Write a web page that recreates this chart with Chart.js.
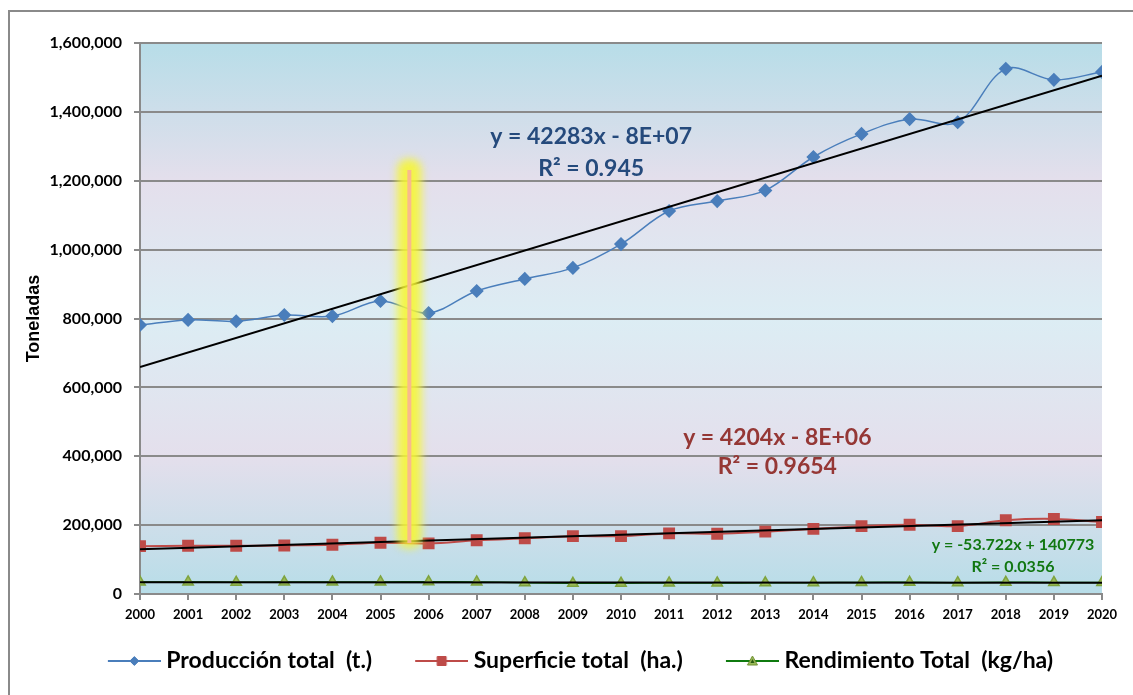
<!DOCTYPE html>
<html>
<head>
<meta charset="utf-8">
<script src="https://cdn.jsdelivr.net/npm/chart.js@4.4.0/dist/chart.umd.min.js"></script>
<style>
  html, body { margin: 0; padding: 0; background: #fff; }
  #wrap { position: relative; width: 1133px; height: 695px; overflow: hidden; }
  #frame { position: absolute; left: 8px; top: 10px; width: 1140px; height: 700px; border: 2px solid #8a8a8a; box-sizing: border-box; }
  #c { position: absolute; left: 0; top: 0; }
</style>
</head>
<body>
<div id="wrap">
  <div id="frame"></div>
  <canvas id="c" width="1133" height="695"></canvas>
</div>
<script>
const years = [2000, 2001, 2002, 2003, 2004, 2005, 2006, 2007, 2008, 2009, 2010,
               2011, 2012, 2013, 2014, 2015, 2016, 2017, 2018, 2019, 2020];
const produccion = [781000, 796000, 792000, 810000, 807000, 851000, 816000, 880000, 915000, 947000, 1016000,
                    1112000, 1141000, 1172000, 1269000, 1336000, 1379000, 1370000, 1525000, 1493000, 1516000];
const superficie = [139000, 140000, 140000, 141000, 143000, 149000, 147000, 156000, 162000, 168000, 168000,
                    176000, 175000, 181000, 189000, 197000, 201000, 197000, 214000, 218000, 209000];
const rendimiento = [34500, 35000, 34000, 34500, 35000, 35000, 35500, 35000, 33000, 31000, 31500,
                     32000, 32000, 32500, 33000, 33500, 34000, 33000, 34000, 33500, 33500];
const yTicks = [0, 200000, 400000, 600000, 800000, 1000000, 1200000, 1400000, 1600000];
const seriesNames = ["Producción total  (t.)", "Superficie total  (ha.)", "Rendimiento Total  (kg/ha)"];

// trend equations printed on the chart (position in data units)
const eqLabels = [
  { lines: ["y = 42283x - 8E+07", "R² = 0.945"], x: 2009.38, y: [1327000, 1234000], color: "#254a7c", size: 23 },
  { lines: ["y = 4204x - 8E+06", "R² = 0.9654"], x: 2013.25, y: [453000, 369000], color: "#953735", size: 23 },
  { lines: ["y = -53.722x + 140773", "R² = 0.0356"], x: 2018.15, y: [142000, 80000], color: "#117711", size: 16 }
];
const highlight = { year: 2005.6, from: 142000, to: 1231000 };

const FONT = "Lato";
const BLUE = "#4a7ebb", RED = "#be4b48", GREEN_LINE = "#0f7a0f", GREEN_MK = "#9bbb59";

const linFit = (xs, ys) => {
  const n = xs.length;
  const mx = xs.reduce((a, b) => a + b, 0) / n;
  const my = ys.reduce((a, b) => a + b, 0) / n;
  let num = 0, den = 0;
  xs.forEach((x, i) => { num += (x - mx) * (ys[i] - my); den += (x - mx) * (x - mx); });
  const m = num / den;
  return { m, b: my - m * mx };
};

const trendPoints = (vals) => {
  const f = linFit(years, vals);
  const a = years[0], z = years[years.length - 1];
  return [{ x: a, y: f.m * a + f.b }, { x: z, y: f.m * z + f.b }];
};

const pts = (vals) => years.map((y, i) => ({ x: y, y: vals[i] }));

// legend icon: short line with the marker in the middle, pushed to the right of a wider canvas
const ICON_BOX = 60, ICON_CANVAS = 72, ICON_LEN = 53;
const legendIcon = (lineColor, fill, stroke, shape) => {
  const cv = document.createElement("canvas");
  cv.width = ICON_CANVAS; cv.height = 14;
  const g = cv.getContext("2d");
  const s = ICON_CANVAS - ICON_LEN;
  const c = s + ICON_LEN / 2;
  g.strokeStyle = lineColor; g.lineWidth = 2;
  g.beginPath(); g.moveTo(s, 7); g.lineTo(ICON_CANVAS, 7); g.stroke();
  g.fillStyle = fill; g.strokeStyle = stroke; g.lineWidth = 1;
  g.beginPath();
  if (shape === "diamond") { g.moveTo(c, 2.5); g.lineTo(c + 4.5, 7); g.lineTo(c, 11.5); g.lineTo(c - 4.5, 7); g.closePath(); }
  else if (shape === "square") { g.rect(c - 4.5, 2.5, 9, 9); }
  else { g.moveTo(c, 2); g.lineTo(c + 5, 11); g.lineTo(c - 5, 11); g.closePath(); }
  g.fill(); g.stroke();
  if (shape === "triangle") {
    g.fillStyle = "#2a5a10"; g.beginPath(); g.moveTo(c, 5); g.lineTo(c + 2, 9); g.lineTo(c - 2, 9); g.closePath(); g.fill();
  }
  return cv;
};
const icons = [
  legendIcon(BLUE, BLUE, BLUE, "diamond"),
  legendIcon(RED, RED, RED, "square"),
  legendIcon(GREEN_LINE, GREEN_MK, "#6f8f30", "triangle")
];

const plotBackground = {
  id: "plotBackground",
  beforeDatasetsDraw(chart) {
    const { ctx, chartArea: a } = chart;
    const g = ctx.createLinearGradient(0, a.top, 0, a.bottom);
    g.addColorStop(0, "#b7dde8");
    g.addColorStop(0.25, "#e4dfec");
    g.addColorStop(0.5, "#dcedf4");
    g.addColorStop(0.75, "#e4dfec");
    g.addColorStop(1, "#b7dde8");
    ctx.save();
    ctx.globalCompositeOperation = "destination-over";
    ctx.fillStyle = g;
    ctx.fillRect(a.left, a.top, a.right - a.left, a.bottom - a.top);
    ctx.restore();
  }
};

// legend sits a little right of centre in the original
const legendShift = {
  id: "legendShift",
  afterLayout(chart) {
    if (!chart.legend) return;
    chart.legend.left += 23;
    chart.legend.right += 23;
  }
};

const overlays = {
  id: "overlays",
  afterDatasetsDraw(chart) {
    const { ctx, scales: { x, y } } = chart;
    // yellow highlighter bar
    const hx = x.getPixelForValue(highlight.year);
    const hTop = y.getPixelForValue(highlight.to);
    const hBot = y.getPixelForValue(highlight.from);
    ctx.save();
    ctx.filter = "blur(4px)";
    ctx.fillStyle = "rgba(246,246,50,0.88)";
    ctx.beginPath();
    ctx.roundRect(hx - 12, hTop - 11, 24, hBot - hTop + 14, 10);
    ctx.fill();
    ctx.restore();
    ctx.save();
    ctx.strokeStyle = "#f9b98c";
    ctx.lineWidth = 4;
    ctx.beginPath(); ctx.moveTo(hx, hTop); ctx.lineTo(hx, hBot - 2); ctx.stroke();
    ctx.restore();

    // trend equations
    ctx.save();
    ctx.textAlign = "center";
    ctx.textBaseline = "middle";
    eqLabels.forEach((l) => {
      ctx.fillStyle = l.color;
      ctx.font = `bold ${l.size}px ${FONT}`;
      l.lines.forEach((t, i) => ctx.fillText(t, x.getPixelForValue(l.x), y.getPixelForValue(l.y[i])));
    });
    ctx.restore();
  }
};

new Chart(document.getElementById("c"), {
  type: "line",
  data: {
    datasets: [
      { label: seriesNames[0], data: pts(produccion), borderColor: BLUE, backgroundColor: BLUE, borderWidth: 1.5,
        pointStyle: "rectRot", pointRadius: 6, pointBorderColor: BLUE, tension: 0.35, order: 3 },
      { label: seriesNames[1], data: pts(superficie), borderColor: RED, backgroundColor: RED, borderWidth: 2,
        pointStyle: "rect", pointRadius: 7, pointBorderColor: RED, tension: 0.35, order: 3 },
      { label: seriesNames[2], data: pts(rendimiento), borderColor: GREEN_LINE, backgroundColor: GREEN_MK, borderWidth: 1.5,
        pointStyle: "triangle", pointRadius: 6, pointBorderColor: "#7ea33e", tension: 0.35, order: 3 },
      { label: "trend1", data: trendPoints(produccion), borderColor: "#000", borderWidth: 2, pointRadius: 0, order: 1 },
      { label: "trend2", data: trendPoints(superficie), borderColor: "#000", borderWidth: 2, pointRadius: 0, order: 1 },
      { label: "trend3", data: trendPoints(rendimiento), borderColor: "#000", borderWidth: 2, pointRadius: 0, order: 1 }
    ]
  },
  options: {
    responsive: false,
    animation: false,
    events: [],
    layout: { padding: { top: 43, right: 31, left: 0, bottom: 12.5 } },
    plugins: {
      tooltip: { enabled: false },
      legend: {
        position: "bottom",
        labels: {
          usePointStyle: true,
          pointStyleWidth: ICON_BOX,
          padding: 30,
          color: "#000",
          font: { family: FONT, size: 23, weight: "bold" },
          generateLabels: (chart) => chart.data.datasets.slice(0, 3).map((d, i) => ({
            text: d.label, pointStyle: icons[i], fillStyle: "transparent", strokeStyle: "transparent",
            lineWidth: 0, datasetIndex: i, hidden: false, fontColor: "#000"
          }))
        }
      }
    },
    scales: {
      x: {
        type: "linear",
        min: years[0],
        max: years[years.length - 1],
        afterBuildTicks: (s) => { s.ticks = years.map((v) => ({ value: v })); },
        afterFit: (s) => { s.height = 25.5; },
        ticks: { autoSkip: false, maxRotation: 0, padding: 7, color: "#000",
                 font: { family: FONT, size: 13, weight: "bold" }, callback: (v) => String(v) },
        grid: { drawOnChartArea: false, color: "#8a8a8a", lineWidth: 2, tickLength: 6 },
        border: { color: "#8a8a8a", width: 2 }
      },
      y: {
        min: 0,
        max: 1600000,
        afterBuildTicks: (s) => { s.ticks = yTicks.map((v) => ({ value: v })); },
        afterFit: (s) => { s.width = 140; },
        ticks: { padding: 12, color: "#000", font: { family: FONT, size: 16, weight: "bold" },
                 callback: (v) => v.toLocaleString("en-US") },
        grid: { color: "#8a8a8a", lineWidth: 2, tickLength: 6 },
        border: { color: "#8a8a8a", width: 2 },
        title: { display: true, text: "Toneladas", color: "#000", padding: { top: 23, bottom: 0 },
                 font: { family: "Liberation Sans", size: 18, weight: "bold" } }
      }
    }
  },
  plugins: [plotBackground, legendShift, overlays]
});
</script>
</body>
</html>
